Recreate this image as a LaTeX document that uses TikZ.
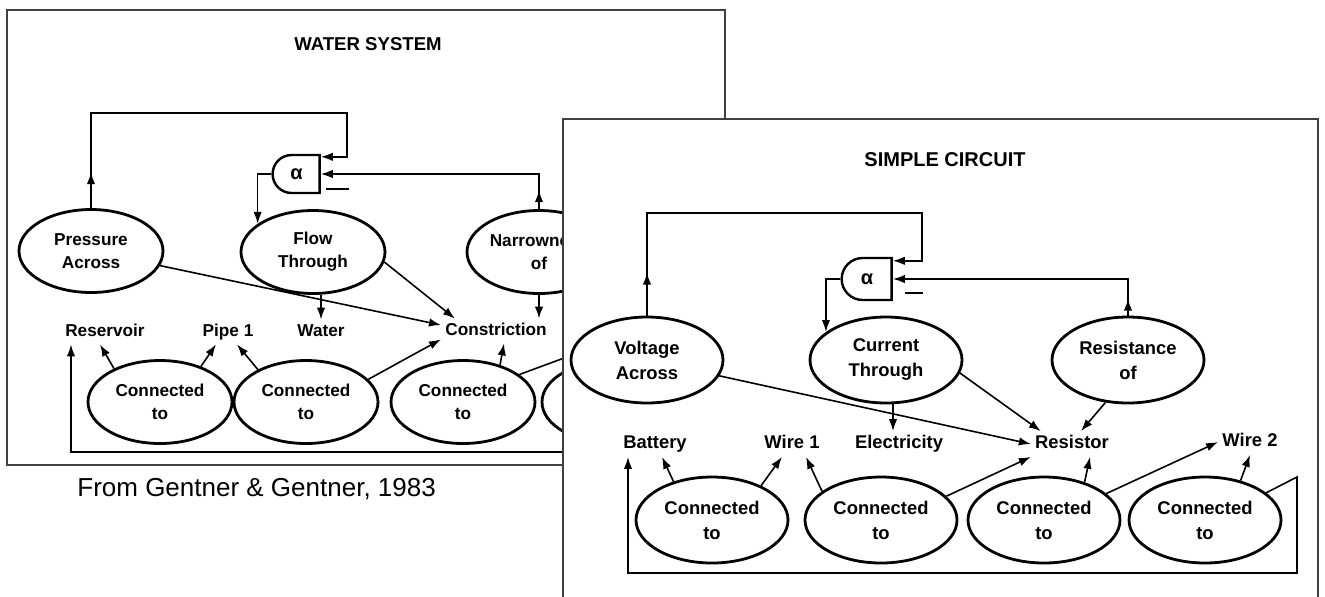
\documentclass[tikz,border=0pt]{standalone}
\usepackage{fontspec}
\setmainfont{Liberation Sans}
\usepackage{tikz}
\usetikzlibrary{shapes.geometric, shapes.misc, arrows.meta, positioning}
\newcommand{\wfont}{\fontsize{8.6}{11.5}\selectfont\bfseries}
\newcommand{\cfont}{\fontsize{9.2}{12.5}\selectfont\bfseries}
\tikzstyle{arrow} = [thick,->,>={Latex[length=6pt,width=4.2pt]}]
\tikzstyle{link} = [thick]
\tikzstyle{oval} = [ellipse, draw, line width=1.4pt, minimum width=72pt, minimum height=41.5pt, inner sep=0pt, font=\wfont]
\tikzstyle{bigoval} = [oval, minimum width=76pt, minimum height=43pt, font=\cfont]
\tikzstyle{lbl} = [inner sep=2pt, text height=6.2pt, text depth=1.8pt, font=\wfont]
\tikzstyle{biglbl} = [lbl, text height=6.6pt, text depth=1.9pt, font=\cfont]
\tikzstyle{gate} = [rounded rectangle, rounded rectangle right arc=none, draw, line width=1.2pt, inner sep=0pt, font=\fontsize{10}{12}\selectfont\bfseries]
\tikzstyle{panel} = [draw=black!75, line width=0.75pt]
\tikzset{every node/.style={align=center}}

\begin{document}
\begin{tikzpicture}[x=0.5pt, y=-0.5pt]
    \useasboundingbox (0,0) rectangle (1325,596);

    % water system
    \draw[panel] (7,10) rectangle (725,465);
    \node (wtitle) [font=\fontsize{9.3}{11}\selectfont\bfseries] at (368,44) {WATER SYSTEM};
    \node (pa)   [oval] at (91,251)  {Pressure\\Across};
    \node (ft)   [oval] at (313,252) {Flow\\Through};
    \node (na)   [oval] at (539,252) {Narrowness\\of};
    \node (g1)   [gate, minimum width=23.5pt, minimum height=19pt] at (296.5,174) {α};
    \node (res)  [lbl] at (105,332) {Reservoir};
    \node (pipe) [lbl] at (228,332) {Pipe 1};
    \node (wat)  [lbl] at (321,332) {Water};
    \node (cons) [lbl] at (496,331) {Constriction};
    \node (wc1)  [oval] at (160,402) {Connected\\to};
    \node (wc2)  [oval] at (306,402) {Connected\\to};
    \node (wc3)  [oval] at (463,402) {Connected\\to};
    \node (wc4)  [oval] at (614,402) {};
    \coordinate (wtop) at (347,113);
    \coordinate (pipe2) at (640,330);
    \coordinate (wl1) at (703,380);
    \coordinate (wl2) at (703,452);

    \draw [arrow] (pa.north) |- (wtop) |- ([yshift=-1.5pt]g1.north east);
    \draw [arrow] (pa.north) -- ++(0,-36);
    \draw [arrow] (na.north) |- (g1.east);
    \draw [arrow] (na.north) -- ++(0,-19);
    \draw [link]  ([xshift=2.5pt,yshift=2.5pt]g1.south east) -- ++(23,0);
    \draw [arrow] (g1.west) -| (ft.153);
    \draw [arrow] (pa) -- ([yshift=3pt]cons.west);
    \draw [arrow] (ft.-8) -- ([xshift=7pt]cons.north west);
    \draw [arrow] (ft.south -| wat.north) -- (wat.north);
    \draw [arrow] (na.south) -- (na.south |- cons.north);
    \draw [arrow] (wc1.144) -- ([xshift=-2.5pt]res.south);
    \draw [arrow] (wc1.41)  -- ([xshift=-6pt]pipe.south);
    \draw [arrow] (wc2.146) -- ([xshift=4.5pt]pipe.south);
    \draw [arrow] (wc2.20)  -- ([yshift=2pt]cons.south west);
    \draw [arrow] (wc3.45)  -- ([xshift=4pt]cons.south);
    \draw [arrow] (wc3.26)  -- (pipe2);
    \draw [arrow] (wc4.24) -- (wl1) -- (wl2) -| ([xshift=-17pt]res.south);

    \node (src) [anchor=base west, inner sep=0pt, font=\fontsize{13}{15}\selectfont] at (77,496) {From Gentner \& Gentner, 1983};

    % simple circuit
    \fill[white] (563,119) rectangle (1318,600);
    \draw[panel] (563,600) |- (1318,119) -- (1318,600);
    \node (ctitle) [font=\fontsize{10}{12}\selectfont\bfseries] at (945,160) {SIMPLE CIRCUIT};
    \node (va)    [bigoval] at (647,360)  {Voltage\\Across};
    \node (ct)    [bigoval] at (886,360)  {Current\\Through};
    \node (rs)    [bigoval] at (1128,360) {Resistance\\of};
    \node (g2)    [gate, minimum width=25pt, minimum height=21pt] at (867,279) {α};
    \node (bat)   [biglbl] at (655,444)  {Battery};
    \node (wire1) [biglbl] at (792,444)  {Wire 1};
    \node (elec)  [biglbl] at (899,444)  {Electricity};
    \node (rsr)   [biglbl] at (1072,444) {Resistor};
    \node (wire2) [biglbl] at (1250,442) {Wire 2};
    \node (cc1)   [bigoval] at (712,520)  {Connected\\to};
    \node (cc2)   [bigoval] at (881,520)  {Connected\\to};
    \node (cc3)   [bigoval] at (1044,520) {Connected\\to};
    \node (cc4)   [bigoval] at (1205,520) {Connected\\to};
    \coordinate (ctop) at (922,213);
    \coordinate (eltop) at ([xshift=-3pt]elec.north);
    \coordinate (cl1) at (1297,477);
    \coordinate (cl2) at (1297,573);

    \draw [arrow] (va.north) |- (ctop) |- ([yshift=-2pt]g2.north east);
    \draw [arrow] (va.north) -- ++(0,-43);
    \draw [arrow] (rs.north) |- (g2.east);
    \draw [arrow] (rs.north) -- ++(0,-17);
    \draw [link]  ([xshift=6pt,yshift=4pt]g2.south east) -- ++(18,0);
    \draw [arrow] (g2.west) -| (ct.155);
    \draw [arrow] (va) -- (rsr.west);
    \draw [arrow] (ct.-10) -- ([xshift=5pt]rsr.north west);
    \draw [arrow] (ct.south -| eltop) -- (eltop);
    \draw [arrow] (rs.242) -- ([xshift=4.5pt]rsr.north);
    \draw [arrow] (cc1.135) -- ([xshift=3.5pt]bat.south);
    \draw [arrow] (cc1.35)  -- ([xshift=-5pt]wire1.south);
    \draw [arrow] (cc2.154) -- ([xshift=7pt]wire1.south);
    \draw [arrow] (cc2.20)  -- (rsr.south west);
    \draw [arrow] (cc3.43)  -- ([xshift=9pt]rsr.south);
    \draw [arrow] (cc3.23)  -- (wire2.west);
    \draw [arrow] (cc4.48)  -- (wire2.south);
    \draw [arrow] (cc4.24) -- (cl1) -- (cl2) -| ([xshift=-13.5pt]bat.south);
\end{tikzpicture}
\end{document}
